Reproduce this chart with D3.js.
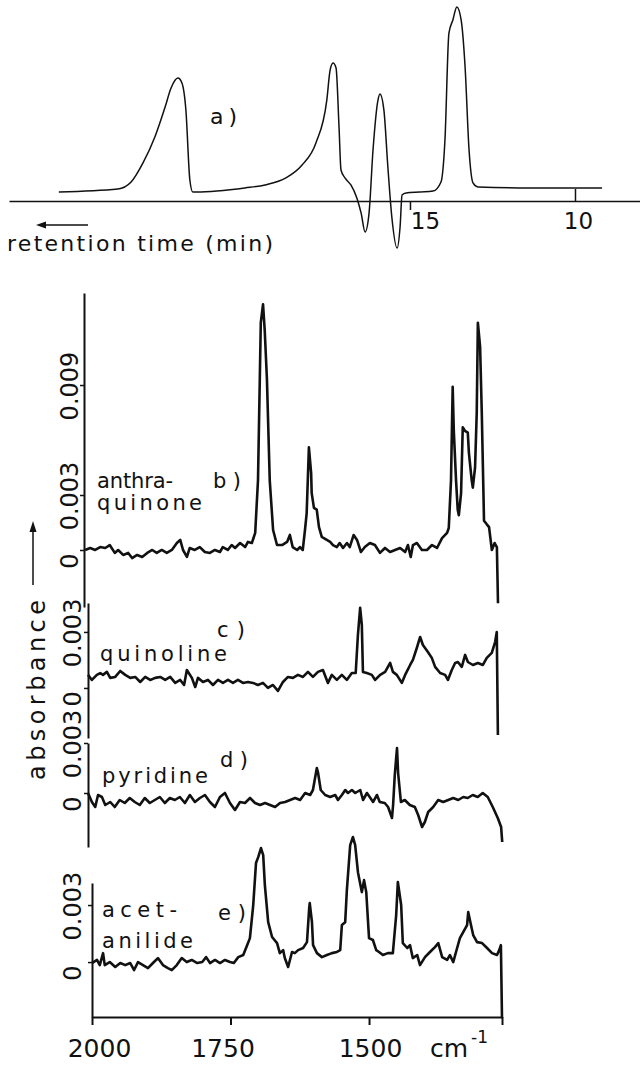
<!DOCTYPE html>
<html>
<head>
<meta charset="utf-8">
<script src="https://cdn.jsdelivr.net/npm/d3@7"></script>
<style>
  body { margin: 0; background: #fff; }
  svg { display: block; }
  text { font-family: "DejaVu Sans", sans-serif; fill: #111; }
</style>
</head>
<body>
<svg id="chart" width="640" height="1067"></svg>
<script>
// a) chromatogram: retention time (min) vs detector signal (arb. units, top peak = 1)
var chromTime = [25.64, 23.85, 23.45, 23.09, 22.73, 22.42, 22.24, 22.03, 21.91, 21.79,
  21.67, 21.58, 21.48, 20.0, 19.39, 18.76, 18.27, 17.85, 17.52, 17.42,
  17.33, 17.24, 17.15, 17.09, 16.97, 16.79, 16.61, 16.48, 16.36, 16.24,
  16.12, 15.97, 15.91, 15.79, 15.67, 15.55, 15.39, 15.30, 15.24, 15.12,
  14.70, 14.30, 14.06, 13.94, 13.82, 13.70, 13.58, 13.45, 13.33, 13.21,
  13.09, 12.94, 11.33, 9.18];
var chromSignal = [0, 0.016, 0.054, 0.157, 0.297, 0.459, 0.562, 0.616, 0.589, 0.443,
  0.065, 0, 0, 0.022, 0.038, 0.076, 0.146, 0.265, 0.497, 0.659,
  0.697, 0.670, 0.351, 0.119, 0.076, 0.038, -0.032, -0.114, -0.216, -0.114,
  0.227, 0.497, 0.530, 0.443, 0.135, -0.135, -0.303, -0.189, -0.016, -0.005,
  0, 0.005, 0.054, 0.281, 0.859, 0.930, 1.0, 0.930, 0.676, 0.227,
  0.049, 0.027, 0.022, 0.022];
var timeTicks = [15, 10];

// b)-e) IR spectra: wavenumber (cm-1) vs absorbance in units of 1e-3
var wnB = [1998, 1989, 1980, 1971, 1962, 1954, 1945, 1939, 1930, 1921,
  1914, 1905, 1896, 1887, 1878, 1870, 1861, 1852, 1843, 1834,
  1828, 1823, 1816, 1811, 1802, 1793, 1784, 1775, 1766, 1757,
  1752, 1743, 1736, 1730, 1721, 1712, 1707, 1700, 1694, 1689,
  1684, 1680, 1677, 1673, 1668, 1662, 1655, 1646, 1637, 1632,
  1627, 1619, 1614, 1609, 1605, 1602, 1600, 1598, 1594, 1593,
  1589, 1584, 1580, 1575, 1566, 1560, 1555, 1548, 1543, 1537,
  1530, 1525, 1518, 1512, 1505, 1498, 1489, 1480, 1471, 1462,
  1453, 1444, 1435, 1426, 1421, 1416, 1412, 1405, 1396, 1387,
  1378, 1369, 1360, 1351, 1348, 1344, 1341, 1339, 1335, 1332,
  1330, 1326, 1323, 1319, 1314, 1312, 1307, 1305, 1301, 1298,
  1296, 1292, 1289, 1285, 1280, 1276, 1271, 1266, 1262, 1260];
var absB = [0, 0.11, 0, 0.16, 0.11, 0.27, -0.16, 0, -0.27, -0.16,
  -0.44, -0.27, -0.38, -0.16, 0, -0.16, 0, -0.16, 0, 0.38,
  0.55, 0, -0.38, 0.11, 0, 0.16, -0.11, -0.16, 0, -0.11,
  0.16, 0, 0.27, 0.11, 0.38, 0.16, 0.44, 0.38, 0.93, 3.8,
  12.4, 13.4, 12.0, 9.3, 3.8, 1.09, 0.27, 0.27, 0.44, 0.82,
  0.16, 0, 0.16, 0, 1.09, 2.0, 3.8, 5.6, 4.2, 3.1,
  2.3, 2.2, 1.25, 0.71, 0.55, 0.44, 0.27, 0.16, 0.38, 0.11,
  0.38, 0.16, 0.82, 0.55, -0.11, 0.16, 0.38, 0.27, -0.16, 0.11,
  -0.11, 0, 0.11, -0.11, 0.27, -0.38, 0.27, 0.38, 0, 0,
  0.27, 0.11, 0.65, 0.93, 1.2, 3.8, 8.9, 6.5, 3.8, 2.2,
  1.9, 3.1, 6.7, 6.5, 6.4, 5.3, 3.8, 3.4, 4.5, 7.5,
  12.4, 11.1, 7.5, 1.6, 1.4, 1.25, 0, 0.38, 0.16, -2.9];

var wnC = [2000, 1993, 1984, 1978, 1973, 1966, 1960, 1951, 1942, 1933,
  1924, 1915, 1906, 1897, 1888, 1879, 1870, 1861, 1852, 1843,
  1834, 1827, 1822, 1813, 1807, 1802, 1793, 1784, 1775, 1766,
  1757, 1748, 1739, 1730, 1721, 1712, 1703, 1694, 1685, 1676,
  1667, 1658, 1649, 1640, 1631, 1622, 1613, 1604, 1595, 1586,
  1577, 1568, 1561, 1552, 1543, 1534, 1525, 1518, 1514, 1510,
  1507, 1505, 1498, 1489, 1483, 1474, 1465, 1456, 1451, 1444,
  1435, 1429, 1420, 1415, 1408, 1402, 1397, 1388, 1381, 1375,
  1366, 1357, 1352, 1345, 1339, 1334, 1327, 1321, 1316, 1307,
  1298, 1289, 1282, 1273, 1267, 1264, 1262];
var absC = [0.70, 0.43, 0.70, 0.80, 0.70, 0.86, 0.54, 0.59, 0.91, 0.70,
  0.54, 0.59, 0.32, 0.59, 0.43, 0.54, 0.59, 0.43, 0.59, 0.27,
  0.43, 0.16, 0.96, 0.54, 0.05, 0.54, 0.32, 0.43, 0.16, 0.43,
  0.27, 0.43, 0.27, 0.43, 0.27, 0.32, 0.27, 0.16, 0.27, 0,
  0.16, -0.16, 0.32, 0.59, 0.54, 0.70, 0.59, 0.86, 0.59, 0.86,
  0.96, 0.27, 0.70, 0.43, 0.70, 0.43, 0.80, 0.80, 2.84, 4.29,
  3.38, 0.86, 0.80, 0.70, 0.43, 0.70, 0.86, 1.34, 0.86, 0.70,
  0.27, 0.70, 1.23, 1.50, 2.14, 2.73, 2.30, 1.93, 1.61, 1.13,
  0.80, 0.70, 0.43, 0.96, 1.34, 1.39, 1.13, 1.77, 1.39, 1.23,
  1.34, 1.23, 1.61, 1.88, 2.46, 3.00, -2.52];

var wnD = [2000, 1993, 1987, 1982, 1975, 1969, 1960, 1952, 1943, 1934,
  1925, 1916, 1907, 1898, 1889, 1880, 1871, 1862, 1853, 1844,
  1835, 1826, 1817, 1808, 1799, 1790, 1781, 1772, 1763, 1754,
  1745, 1736, 1727, 1718, 1709, 1700, 1691, 1682, 1673, 1664,
  1655, 1646, 1637, 1628, 1619, 1610, 1601, 1596, 1589, 1587,
  1582, 1574, 1565, 1556, 1551, 1544, 1538, 1533, 1526, 1520,
  1511, 1506, 1499, 1494, 1488, 1481, 1476, 1467, 1461, 1454,
  1452, 1449, 1445, 1443, 1438, 1431, 1422, 1413, 1407, 1400,
  1395, 1389, 1380, 1371, 1362, 1353, 1344, 1335, 1326, 1318,
  1309, 1300, 1291, 1282, 1273, 1264, 1258, 1256];
var absD = [0, -0.54, -0.84, -0.12, -0.24, -0.72, -0.54, -0.84, -0.42, -0.60,
  -0.30, -0.54, -0.72, -0.30, -0.60, -0.42, -0.24, -0.60, -0.30, -0.42,
  -0.24, -0.60, -0.12, -0.54, -0.30, -0.12, -0.54, -0.84, -0.24, 0,
  -0.60, -1.02, -0.54, -0.60, -0.30, -0.60, -0.72, -0.60, -0.72, -0.84,
  -0.60, -0.54, -0.42, -0.30, -0.42, 0, -0.12, 0.18, 1.50, 1.26,
  0.18, -0.12, -0.24, -0.12, -0.42, -0.12, 0.18, 0, 0.18, 0,
  0.18, -0.42, 0, -0.24, -0.54, -0.12, -0.54, -0.60, -0.84, -1.50,
  -0.72, 1.08, 2.70, 1.20, -0.54, -0.42, -0.72, -0.84, -1.32, -2.04,
  -1.74, -1.14, -0.84, -0.42, -0.54, -0.42, -0.30, -0.42, -0.24, -0.30,
  -0.12, -0.24, 0, -0.24, -0.84, -1.50, -2.04, -2.94];

var wnE = [2000, 1991, 1986, 1980, 1977, 1968, 1958, 1949, 1940, 1931,
  1924, 1917, 1908, 1899, 1890, 1881, 1872, 1863, 1856, 1847,
  1838, 1829, 1820, 1810, 1801, 1794, 1787, 1778, 1769, 1760,
  1751, 1744, 1736, 1727, 1720, 1715, 1709, 1704, 1700, 1695,
  1691, 1688, 1682, 1675, 1666, 1661, 1655, 1652, 1646, 1639,
  1634, 1628, 1619, 1612, 1608, 1607, 1603, 1601, 1594, 1585,
  1576, 1567, 1558, 1552, 1549, 1543, 1540, 1534, 1529, 1525,
  1520, 1513, 1509, 1505, 1500, 1493, 1487, 1482, 1475, 1466,
  1457, 1451, 1448, 1442, 1439, 1431, 1426, 1421, 1413, 1408,
  1399, 1390, 1381, 1375, 1368, 1359, 1354, 1348, 1341, 1336,
  1330, 1323, 1321, 1316, 1312, 1305, 1296, 1287, 1278, 1269,
  1265, 1262, 1260];
var absE = [-0.05, 0.11, -0.16, 0.47, -0.16, 0, -0.26, -0.05, -0.16, -0.05,
  -0.42, 0, -0.16, -0.32, -0.05, 0.21, -0.16, -0.32, -0.42, -0.16,
  0.21, 0, 0.11, -0.05, 0, 0.26, -0.05, 0.11, -0.05, 0.11,
  0, -0.05, 0.26, 0.37, 0.89, 1.26, 3.00, 5.21, 5.52, 6.00,
  5.63, 4.05, 2.10, 1.32, 1.00, 0.47, 0.63, 0.21, -0.26, 0.53,
  0.47, 0.63, 0.74, 1.05, 2.84, 3.10, 2.10, 0.89, 0.47, 0.26,
  0.37, 0.47, 0.53, 0.63, 1.95, 2.10, 3.79, 6.15, 6.58, 6.15,
  4.73, 3.68, 4.31, 3.68, 1.26, 1.16, 0.63, 0.53, 0.37, 0.47,
  0.47, 2.47, 4.21, 3.00, 1.00, 0.74, 0.89, 0.21, 0.37, -0.16,
  0.26, 0.53, 0.79, 1.00, 0.26, 0.11, 0.37, 0, 0.74, 1.26,
  1.58, 1.95, 2.63, 1.95, 1.42, 1.05, 1.00, 0.74, 0.47, 0.37,
  0.63, 0.89, -2.95];

var wnTicks = [2000, 1750, 1500, 1260];
var wnTickLabels = ["2000", "1750", "1500", ""];
var absTicksB = [0, 0.003, 0.009];
var absTicksC = [0, 0.003];
var absTicksD = [0, 0.003];
var absTicksE = [0, 0.003];
var compoundNames = [["anthra-", "quinone"], ["quinoline"], ["pyridine"], ["acet-", "anilide"]];
var panelLetters = ["b)", "c)", "d)", "e)"];

var ink = "#111";
var svg = d3.select("#chart");

// ---------- a) chromatogram ----------
var tScale = d3.scaleLinear().domain([27.15, 8.03]).range([9, 640]);
var sScale = d3.scaleLinear().domain([0, 1]).range([192, 7]);

svg.append("g")
  .attr("transform", "translate(0,201)")
  .call(d3.axisBottom(tScale).tickValues(timeTicks).tickSize(9).tickSizeOuter(0).tickFormat(d3.format("d")))
  .call(function(g) {
    g.select(".domain").attr("stroke", ink).attr("stroke-width", 1.5);
    g.selectAll(".tick line").attr("stroke", ink).attr("stroke-width", 1.5)
      .attr("y1", function(d) { return d === 10 ? -12 : 0; })
      .attr("y2", function(d) { return d === 10 ? 1 : 9; });
    g.selectAll(".tick text").attr("font-size", 23).attr("y", 12)
      .attr("dx", function(d) { return d === 15 ? 15 : 3; });
  });

svg.append("path")
  .datum(d3.zip(chromTime, chromSignal))
  .attr("fill", "none").attr("stroke", ink).attr("stroke-width", 1.5)
  .attr("stroke-linejoin", "round")
  .attr("d", d3.line()
    .x(function(d) { return tScale(d[0]); })
    .y(function(d) { return sScale(d[1]); })
    .curve(d3.curveMonotoneX));

svg.append("text").attr("x", 210).attr("y", 124).attr("font-size", 22)
  .attr("textLength", 27).attr("lengthAdjust", "spacing").text("a)");

// retention time arrow and label
svg.append("line").attr("x1", 88).attr("x2", 44).attr("y1", 225).attr("y2", 225)
  .attr("stroke", ink).attr("stroke-width", 1.5);
svg.append("path").attr("d", "M36,225L46,221.5L46,228.5Z").attr("fill", ink);
svg.append("text").attr("x", 7).attr("y", 251).attr("font-size", 22)
  .attr("textLength", 266).attr("lengthAdjust", "spacing").text("retention time (min)");

// ---------- b)-e) spectra ----------
var spectra = [
  { wn: wnB, abs: absB, ticks: absTicksB },
  { wn: wnC, abs: absC, ticks: absTicksC },
  { wn: wnD, abs: absD, ticks: absTicksD },
  { wn: wnE, abs: absE, ticks: absTicksE }
];
// pixel layout of each panel (the scan's axes are slightly offset from each other)
var layout = [
  { xr: [84, 498], yr: [607, 293], ydom: [-0.00311, 0.01402], labelX: 78,
    nameY: [488, 510], textLen: [[76], [105]], letterX: 213, letterY: 488 },
  { xr: [88, 499], yr: [738, 603], ydom: [-0.00268, 0.00455], labelX: 81,
    nameY: [661], textLen: [[127]], letterX: 217, letterY: 637 },
  { xr: [88, 500], yr: [847, 743], ydom: [-0.00324, 0.003], labelX: 81,
    nameY: [783], textLen: [[106]], letterX: 220, letterY: 767 },
  { xr: [92, 502], yr: [1017, 883], ydom: [-0.00289, 0.00416], labelX: 81,
    nameY: [917, 948], textLen: [[75], [91]], letterX: 218, letterY: 920 }
];
var nameX = [97, 100, 102, 102];
var absFmt = function(v) { return v === 0 ? "0" : d3.format(".3f")(v); };
var xE;

spectra.forEach(function(sp, i) {
  var lay = layout[i];
  var x = d3.scaleLinear().domain([2000, 1260]).range(lay.xr);
  var y = d3.scaleLinear().domain(lay.ydom).range(lay.yr);
  if (i === 3) xE = x;
  var g = svg.append("g");

  g.append("g")
    .attr("transform", "translate(" + lay.xr[0] + ",0)")
    .call(d3.axisLeft(y).tickValues(sp.ticks).tickSize(4).tickSizeOuter(0).tickFormat(""))
    .call(function(a) {
      a.select(".domain").attr("stroke", ink).attr("stroke-width", 2);
      a.selectAll(".tick line").attr("stroke", ink).attr("stroke-width", 1.5);
    });

  g.selectAll(".ylab").data(sp.ticks).enter().append("text")
    .attr("class", "ylab")
    .attr("font-size", 24)
    .attr("text-anchor", "middle")
    .attr("transform", function(d) {
      var off = d === 0 ? 11 : 1;
      return "translate(" + lay.labelX + "," + (y(d) + off) + ") rotate(-90)";
    })
    .text(absFmt);

  g.append("path")
    .datum(d3.zip(sp.wn, sp.abs))
    .attr("fill", "none").attr("stroke", ink).attr("stroke-width", 2.6)
    .attr("stroke-linejoin", "round")
    .attr("d", d3.line()
      .x(function(d) { return x(d[0]); })
      .y(function(d) { return y(d[1] * 1e-3); }));

  compoundNames[i].forEach(function(nm, k) {
    g.append("text").attr("x", nameX[i]).attr("y", lay.nameY[k]).attr("font-size", 21)
      .attr("textLength", lay.textLen[k][0]).attr("lengthAdjust", "spacing").text(nm);
  });
  g.append("text").attr("x", lay.letterX).attr("y", lay.letterY).attr("font-size", 21)
    .attr("textLength", 28).attr("lengthAdjust", "spacing").text(panelLetters[i]);
});

// wavenumber axis under e)
svg.append("g")
  .attr("transform", "translate(0,1017)")
  .call(d3.axisBottom(xE).tickValues(wnTicks).tickSize(8).tickSizeOuter(0)
    .tickFormat(function(d, i) { return wnTickLabels[i]; }))
  .call(function(a) {
    a.select(".domain").attr("stroke", ink).attr("stroke-width", 2);
    a.selectAll(".tick line").attr("stroke", ink).attr("stroke-width", 2);
    a.selectAll(".tick text").attr("font-size", 25).attr("y", 22)
      .attr("dx", function(d) { return d === 2000 ? 7 : d === 1750 ? -8 : 1; });
  });

var unit = svg.append("text").attr("x", 430).attr("y", 1057).attr("font-size", 25);
unit.append("tspan").text("cm");
unit.append("tspan").attr("dx", 3).attr("dy", -14).attr("font-size", 17).text("-1");

// absorbance label with arrow
svg.append("text").attr("font-size", 24).attr("text-anchor", "middle")
  .attr("transform", "translate(45,690) rotate(-90)")
  .attr("textLength", 180).attr("lengthAdjust", "spacing").text("absorbance");
svg.append("line").attr("x1", 33).attr("x2", 33).attr("y1", 585).attr("y2", 531)
  .attr("stroke", ink).attr("stroke-width", 1.5);
svg.append("path").attr("d", "M33,521L29.5,532L36.5,532Z").attr("fill", ink);
</script>
</body>
</html>
